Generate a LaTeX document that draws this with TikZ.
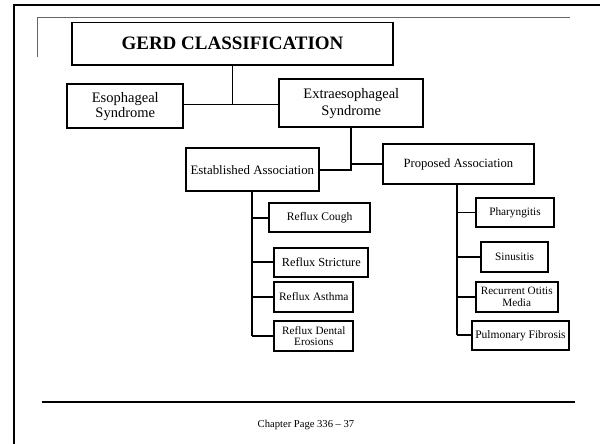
\documentclass[tikz,border=0pt]{standalone}
\usepackage{fontspec}
\setmainfont{Liberation Serif}
\begin{document}
\begin{tikzpicture}[x=1pt,y=-1pt,
  box/.style={draw=black,line width=1.8pt,inner sep=0pt,align=center,fill=white},
  conn/.style={draw=black,line width=1.8pt}]
\useasboundingbox (0,0) rectangle (600,444);
\fill[white] (0,0) rectangle (600,444);
% frame
\draw[line width=2pt] (14.3,444) -- (14.3,5) -- (600,5);
\draw[line width=1.3pt,black!60] (37.5,57.3) -- (37.5,17.8) -- (570,17.8);
\draw[line width=2.3pt] (41.7,401.7) -- (575,401.7);
% connectors
\coordinate (j1) at (232.5,104.5);
\coordinate (j2) at (351.3,169.65);
\coordinate (t1) at (252.35,336);
\coordinate (t2) at (457.3,335.35);
% nodes
\node[box,minimum width=321pt,minimum height=42.5pt,font=\fontsize{19}{21}\selectfont\bfseries] (gerd) at (232.5,43.75) {GERD CLASSIFICATION};
\node[box,minimum width=116pt,minimum height=44pt,font=\fontsize{14.5}{15.5}\selectfont] (eso) at (125.3,106.3) {Esophageal\\Syndrome};
\node[box,minimum width=144pt,minimum height=48pt,font=\fontsize{14.5}{17}\selectfont] (extra) at (351.3,103.3) {Extraesophageal\\Syndrome};
\node[box,minimum width=133.3pt,minimum height=42.7pt,font=\fontsize{12.9}{14}\selectfont] (est) at (252.35,169.65) {Established Association};
\node[box,minimum width=151.3pt,minimum height=40pt,font=\fontsize{12.6}{14}\selectfont] (prop) at (458.35,164) {Proposed Association};
\node[box,minimum width=100.7pt,minimum height=29pt,font=\fontsize{11.6}{12}\selectfont] (cough) at (319.65,217.8) {Reflux Cough};
\node[box,minimum width=94pt,minimum height=29pt,font=\fontsize{12.3}{13}\selectfont] (strict) at (321.3,262.2) {Reflux Stricture};
\node[box,minimum width=79pt,minimum height=30pt,font=\fontsize{11.4}{12}\selectfont] (asthma) at (313.8,296.7) {Reflux Asthma};
\node[box,minimum width=79pt,minimum height=30pt,font=\fontsize{11.2}{11.5}\selectfont] (dental) at (313.8,336) {Reflux Dental\\Erosions};
\node[box,minimum width=78pt,minimum height=29.6pt,font=\fontsize{11.3}{12}\selectfont] (phar) at (515,212.5) {Pharyngitis};
\node[box,minimum width=67.3pt,minimum height=29.4pt,font=\fontsize{11.3}{12}\selectfont] (sinus) at (514.65,257) {Sinusitis};
\node[box,minimum width=82pt,minimum height=30pt,font=\fontsize{11.2}{11.5}\selectfont] (otitis) at (516.7,296.7) {Recurrent Otitis\\Media};
\node[box,minimum width=97.6pt,minimum height=29.3pt,font=\fontsize{11.5}{12}\selectfont] (pulm) at (520.5,335.35) {Pulmonary Fibrosis};
\node[font=\fontsize{10.6}{12}\selectfont,inner sep=0pt] (chap) at (306,425) {Chapter Page 336 -- 37};
% connector drawing
\draw[conn] (gerd.south) -- (j1);
\draw[conn] (eso.east |- j1) -- (extra.west |- j1);
\draw[conn] (extra.south) -- (j2) -- (est.east);
\draw[conn] (prop.west) -- (prop.west -| j2);
\draw[conn] (est.south) -- (t1);
\foreach \n in {cough,strict,asthma,dental} \draw[conn] (\n.west) -- (\n.west -| t1);
\draw[conn] (t2 |- prop.south) -- (t2);
\foreach \n in {phar,sinus,otitis,pulm} \draw[conn] (\n.west) -- (\n.west -| t2);
\end{tikzpicture}
\end{document}
